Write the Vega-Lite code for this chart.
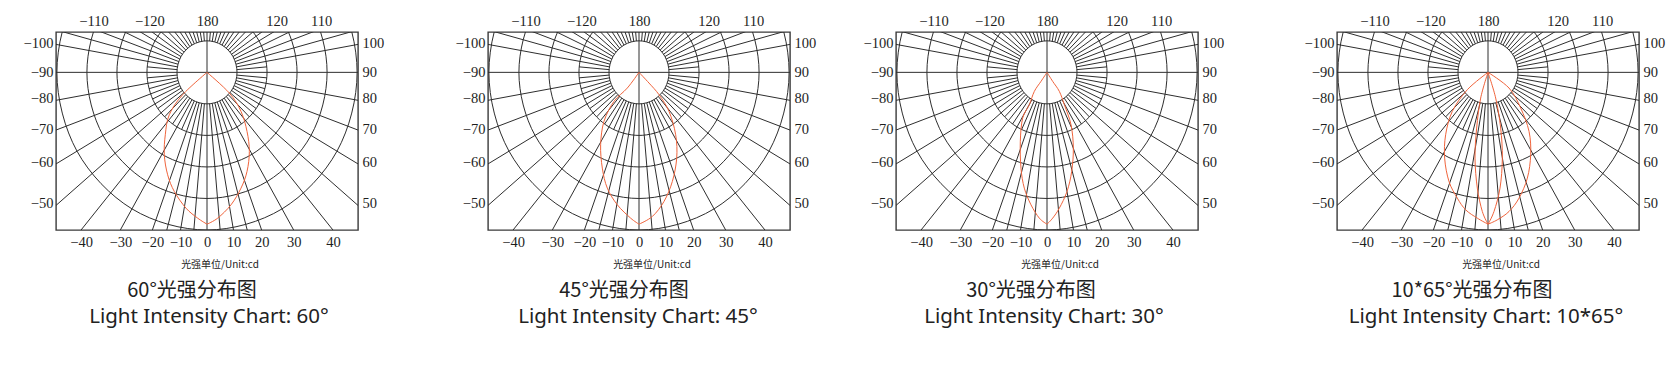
{
"$schema":"https://vega.github.io/schema/vega-lite/v6.json",
"background":"white",
"padding":{"left":22,"top":12,"right":0,"bottom":0},
"config":{"view":{"stroke":"#3a3a3a","strokeWidth":1.4},"axis":{"domain":false,"ticks":false,"tickSize":0,"grid":false,"labelFont":"Liberation Serif","labelFontSize":14.5,"labelColor":"#1e1e1e","labelOverlap":false,"labelFlush":false},"concat":{"spacing":0}},
"datasets":{
"rings":[
{"ring":1,"i":0,"x":1,"y":0},{"ring":1,"i":1,"x":0.866,"y":0.5},{"ring":1,"i":2,"x":0.5,"y":0.866},{"ring":1,"i":3,"x":0,"y":1},{"ring":1,"i":4,"x":-0.5,"y":0.866},{"ring":1,"i":5,"x":-0.866,"y":0.5},{"ring":1,"i":6,"x":-1,"y":0},{"ring":1,"i":7,"x":-0.866,"y":-0.5},{"ring":1,"i":8,"x":-0.5,"y":-0.866},{"ring":1,"i":9,"x":0,"y":-1},{"ring":1,"i":10,"x":0.5,"y":-0.866},{"ring":1,"i":11,"x":0.866,"y":-0.5},
{"ring":2,"i":0,"x":2,"y":0},{"ring":2,"i":1,"x":1.732,"y":1},{"ring":2,"i":2,"x":1,"y":1.732},{"ring":2,"i":3,"x":0,"y":2},{"ring":2,"i":4,"x":-1,"y":1.732},{"ring":2,"i":5,"x":-1.732,"y":1},{"ring":2,"i":6,"x":-2,"y":0},{"ring":2,"i":7,"x":-1.732,"y":-1},{"ring":2,"i":8,"x":-1,"y":-1.732},{"ring":2,"i":9,"x":0,"y":-2},{"ring":2,"i":10,"x":1,"y":-1.732},{"ring":2,"i":11,"x":1.732,"y":-1},
{"ring":3,"i":0,"x":3,"y":0},{"ring":3,"i":1,"x":2.598,"y":1.5},{"ring":3,"i":2,"x":1.5,"y":2.598},{"ring":3,"i":3,"x":0,"y":3},{"ring":3,"i":4,"x":-1.5,"y":2.598},{"ring":3,"i":5,"x":-2.598,"y":1.5},{"ring":3,"i":6,"x":-3,"y":0},{"ring":3,"i":7,"x":-2.598,"y":-1.5},{"ring":3,"i":8,"x":-1.5,"y":-2.598},{"ring":3,"i":9,"x":0,"y":-3},{"ring":3,"i":10,"x":1.5,"y":-2.598},{"ring":3,"i":11,"x":2.598,"y":-1.5},
{"ring":4,"i":0,"x":4,"y":0},{"ring":4,"i":1,"x":3.464,"y":2},{"ring":4,"i":2,"x":2,"y":3.464},{"ring":4,"i":3,"x":0,"y":4},{"ring":4,"i":4,"x":-2,"y":3.464},{"ring":4,"i":5,"x":-3.464,"y":2},{"ring":4,"i":6,"x":-4,"y":0},{"ring":4,"i":7,"x":-3.464,"y":-2},{"ring":4,"i":8,"x":-2,"y":-3.464},{"ring":4,"i":9,"x":0,"y":-4},{"ring":4,"i":10,"x":2,"y":-3.464},{"ring":4,"i":11,"x":3.464,"y":-2},
{"ring":5,"i":0,"x":5,"y":0},{"ring":5,"i":1,"x":4.33,"y":2.5},{"ring":5,"i":2,"x":2.5,"y":4.33},{"ring":5,"i":3,"x":0,"y":5},{"ring":5,"i":4,"x":-2.5,"y":4.33},{"ring":5,"i":5,"x":-4.33,"y":2.5},{"ring":5,"i":6,"x":-5,"y":0},{"ring":5,"i":7,"x":-4.33,"y":-2.5},{"ring":5,"i":8,"x":-2.5,"y":-4.33},{"ring":5,"i":9,"x":0,"y":-5},{"ring":5,"i":10,"x":2.5,"y":-4.33},{"ring":5,"i":11,"x":4.33,"y":-2.5}
],
"spokes":[
{"x":-6,"y":0,"x2":6,"y2":0},{"x":0,"y":-6,"x2":0,"y2":2},
{"x":0.087,"y":-0.996,"x2":0.698,"y2":-7.97},{"x":-0.087,"y":-0.996,"x2":-0.698,"y2":-7.97},
{"x":0.174,"y":-0.985,"x2":1.389,"y2":-7.878},{"x":-0.174,"y":-0.985,"x2":-1.389,"y2":-7.878},
{"x":0.259,"y":-0.966,"x2":2.07,"y2":-7.727},{"x":-0.259,"y":-0.966,"x2":-2.07,"y2":-7.727},
{"x":0.342,"y":-0.94,"x2":2.736,"y2":-7.518},{"x":-0.342,"y":-0.94,"x2":-2.736,"y2":-7.518},
{"x":0.5,"y":-0.866,"x2":4,"y2":-6.928},{"x":-0.5,"y":-0.866,"x2":-4,"y2":-6.928},
{"x":0.643,"y":-0.766,"x2":5.142,"y2":-6.128},{"x":-0.643,"y":-0.766,"x2":-5.142,"y2":-6.128},
{"x":0.766,"y":-0.643,"x2":6.128,"y2":-5.142},{"x":-0.766,"y":-0.643,"x2":-6.128,"y2":-5.142},
{"x":0.866,"y":-0.5,"x2":6.928,"y2":-4},{"x":-0.866,"y":-0.5,"x2":-6.928,"y2":-4},
{"x":0.94,"y":-0.342,"x2":7.518,"y2":-2.736},{"x":-0.94,"y":-0.342,"x2":-7.518,"y2":-2.736},
{"x":0.985,"y":-0.174,"x2":7.878,"y2":-1.389},{"x":-0.985,"y":-0.174,"x2":-7.878,"y2":-1.389},
{"x":0.423,"y":-0.906,"x2":0.845,"y2":-1.813},{"x":-0.423,"y":-0.906,"x2":-0.845,"y2":-1.813},
{"x":0.574,"y":-0.819,"x2":1.147,"y2":-1.638},{"x":-0.574,"y":-0.819,"x2":-1.147,"y2":-1.638},
{"x":0.707,"y":-0.707,"x2":1.414,"y2":-1.414},{"x":-0.707,"y":-0.707,"x2":-1.414,"y2":-1.414},
{"x":0.819,"y":-0.574,"x2":1.638,"y2":-1.147},{"x":-0.819,"y":-0.574,"x2":-1.638,"y2":-1.147},
{"x":0.906,"y":-0.423,"x2":1.813,"y2":-0.845},{"x":-0.906,"y":-0.423,"x2":-1.813,"y2":-0.845},
{"x":0.966,"y":-0.259,"x2":1.932,"y2":-0.518},{"x":-0.966,"y":-0.259,"x2":-1.932,"y2":-0.518},
{"x":0.996,"y":-0.087,"x2":1.992,"y2":-0.174},{"x":-0.996,"y":-0.087,"x2":-1.992,"y2":-0.174},
{"x":0.087,"y":0.996,"x2":0.698,"y2":7.97},{"x":-0.087,"y":0.996,"x2":-0.698,"y2":7.97},
{"x":0.174,"y":0.985,"x2":1.389,"y2":7.878},{"x":-0.174,"y":0.985,"x2":-1.389,"y2":7.878},
{"x":0.259,"y":0.966,"x2":2.07,"y2":7.727},{"x":-0.259,"y":0.966,"x2":-2.07,"y2":7.727},
{"x":0.342,"y":0.94,"x2":2.736,"y2":7.518},{"x":-0.342,"y":0.94,"x2":-2.736,"y2":7.518},
{"x":0.423,"y":0.906,"x2":3.381,"y2":7.25},{"x":-0.423,"y":0.906,"x2":-3.381,"y2":7.25},
{"x":0.5,"y":0.866,"x2":4,"y2":6.928},{"x":-0.5,"y":0.866,"x2":-4,"y2":6.928},
{"x":0.574,"y":0.819,"x2":4.589,"y2":6.554},{"x":-0.574,"y":0.819,"x2":-4.589,"y2":6.554},
{"x":0.643,"y":0.766,"x2":5.142,"y2":6.128},{"x":-0.643,"y":0.766,"x2":-5.142,"y2":6.128},
{"x":0.707,"y":0.707,"x2":5.657,"y2":5.657},{"x":-0.707,"y":0.707,"x2":-5.657,"y2":5.657},
{"x":0.766,"y":0.643,"x2":6.128,"y2":5.142},{"x":-0.766,"y":0.643,"x2":-6.128,"y2":5.142},
{"x":0.819,"y":0.574,"x2":6.554,"y2":4.589},{"x":-0.819,"y":0.574,"x2":-6.554,"y2":4.589},
{"x":0.866,"y":0.5,"x2":6.928,"y2":4},{"x":-0.866,"y":0.5,"x2":-6.928,"y2":4},
{"x":0.906,"y":0.423,"x2":7.25,"y2":3.381},{"x":-0.906,"y":0.423,"x2":-7.25,"y2":3.381},
{"x":0.94,"y":0.342,"x2":7.518,"y2":2.736},{"x":-0.94,"y":0.342,"x2":-7.518,"y2":2.736},
{"x":0.966,"y":0.259,"x2":7.727,"y2":2.07},{"x":-0.966,"y":0.259,"x2":-7.727,"y2":2.07},
{"x":0.985,"y":0.174,"x2":7.878,"y2":1.389},{"x":-0.985,"y":0.174,"x2":-7.878,"y2":1.389},
{"x":0.996,"y":0.087,"x2":1.992,"y2":0.174},{"x":-0.996,"y":0.087,"x2":-1.992,"y2":0.174}
],
"curves":[
{"c":"60","s":"L","i":0,"x":0,"y":0},{"c":"60","s":"L","i":1,"x":-0.811,"y":-0.709},{"c":"60","s":"L","i":2,"x":-1.256,"y":-1.344},{"c":"60","s":"L","i":3,"x":-1.389,"y":-1.979},{"c":"60","s":"L","i":4,"x":-1.422,"y":-2.614},{"c":"60","s":"L","i":5,"x":-1.311,"y":-3.249},{"c":"60","s":"L","i":6,"x":-1.089,"y":-3.778},{"c":"60","s":"L","i":7,"x":-0.7,"y":-4.307},{"c":"60","s":"L","i":8,"x":-0.311,"y":-4.624},{"c":"60","s":"L","i":9,"x":0,"y":-4.815},
{"c":"60","s":"R","i":0,"x":0,"y":0},{"c":"60","s":"R","i":1,"x":0.744,"y":-0.656},{"c":"60","s":"R","i":2,"x":1.133,"y":-1.238},{"c":"60","s":"R","i":3,"x":1.333,"y":-1.873},{"c":"60","s":"R","i":4,"x":1.411,"y":-2.508},{"c":"60","s":"R","i":5,"x":1.333,"y":-3.143},{"c":"60","s":"R","i":6,"x":1.133,"y":-3.672},{"c":"60","s":"R","i":7,"x":0.8,"y":-4.201},{"c":"60","s":"R","i":8,"x":0.356,"y":-4.624},{"c":"60","s":"R","i":9,"x":0,"y":-4.815},
{"c":"45","s":"L","i":0,"x":0,"y":0},{"c":"45","s":"L","i":1,"x":-0.389,"y":-0.497},{"c":"45","s":"L","i":2,"x":-0.833,"y":-0.921},{"c":"45","s":"L","i":3,"x":-1.167,"y":-1.556},{"c":"45","s":"L","i":4,"x":-1.278,"y":-2.296},{"c":"45","s":"L","i":5,"x":-1.222,"y":-3.037},{"c":"45","s":"L","i":6,"x":-1.056,"y":-3.672},{"c":"45","s":"L","i":7,"x":-0.722,"y":-4.201},{"c":"45","s":"L","i":8,"x":-0.278,"y":-4.624},{"c":"45","s":"L","i":9,"x":0,"y":-4.815},
{"c":"45","s":"R","i":0,"x":0,"y":0},{"c":"45","s":"R","i":1,"x":0.333,"y":-0.339},{"c":"45","s":"R","i":2,"x":0.667,"y":-0.709},{"c":"45","s":"R","i":3,"x":1.0,"y":-1.238},{"c":"45","s":"R","i":4,"x":1.222,"y":-1.979},{"c":"45","s":"R","i":5,"x":1.256,"y":-2.72},{"c":"45","s":"R","i":6,"x":1.111,"y":-3.46},{"c":"45","s":"R","i":7,"x":0.833,"y":-4.095},{"c":"45","s":"R","i":8,"x":0.444,"y":-4.571},{"c":"45","s":"R","i":9,"x":0,"y":-4.815},
{"c":"30","s":"L","i":0,"x":0,"y":0},{"c":"30","s":"L","i":1,"x":-0.2,"y":-0.286},{"c":"30","s":"L","i":2,"x":-0.422,"y":-0.603},{"c":"30","s":"L","i":3,"x":-0.589,"y":-1.026},{"c":"30","s":"L","i":4,"x":-0.811,"y":-1.45},{"c":"30","s":"L","i":5,"x":-0.889,"y":-2.19},{"c":"30","s":"L","i":6,"x":-0.867,"y":-3.037},{"c":"30","s":"L","i":7,"x":-0.756,"y":-3.672},{"c":"30","s":"L","i":8,"x":-0.533,"y":-4.201},{"c":"30","s":"L","i":9,"x":-0.256,"y":-4.624},{"c":"30","s":"L","i":10,"x":0,"y":-4.815},
{"c":"30","s":"R","i":0,"x":0,"y":0},{"c":"30","s":"R","i":1,"x":0.189,"y":-0.286},{"c":"30","s":"R","i":2,"x":0.411,"y":-0.603},{"c":"30","s":"R","i":3,"x":0.578,"y":-1.026},{"c":"30","s":"R","i":4,"x":0.8,"y":-1.661},{"c":"30","s":"R","i":5,"x":0.878,"y":-2.402},{"c":"30","s":"R","i":6,"x":0.822,"y":-3.143},{"c":"30","s":"R","i":7,"x":0.667,"y":-3.778},{"c":"30","s":"R","i":8,"x":0.411,"y":-4.307},{"c":"30","s":"R","i":9,"x":0.189,"y":-4.624},{"c":"30","s":"R","i":10,"x":0,"y":-4.815},
{"c":"1065","s":"WL","i":0,"x":0,"y":0},{"c":"1065","s":"WL","i":1,"x":-0.689,"y":-0.55},{"c":"1065","s":"WL","i":2,"x":-1.189,"y":-1.238},{"c":"1065","s":"WL","i":3,"x":-1.411,"y":-1.979},{"c":"1065","s":"WL","i":4,"x":-1.444,"y":-2.72},{"c":"1065","s":"WL","i":5,"x":-1.3,"y":-3.46},{"c":"1065","s":"WL","i":6,"x":-1.022,"y":-3.989},{"c":"1065","s":"WL","i":7,"x":-0.744,"y":-4.36},{"c":"1065","s":"WL","i":8,"x":-0.356,"y":-4.624},{"c":"1065","s":"WL","i":9,"x":0,"y":-4.815},
{"c":"1065","s":"WR","i":0,"x":0,"y":0},{"c":"1065","s":"WR","i":1,"x":0.7,"y":-0.497},{"c":"1065","s":"WR","i":2,"x":1.089,"y":-1.132},{"c":"1065","s":"WR","i":3,"x":1.367,"y":-1.873},{"c":"1065","s":"WR","i":4,"x":1.422,"y":-2.614},{"c":"1065","s":"WR","i":5,"x":1.311,"y":-3.354},{"c":"1065","s":"WR","i":6,"x":1.033,"y":-3.989},{"c":"1065","s":"WR","i":7,"x":0.7,"y":-4.413},{"c":"1065","s":"WR","i":8,"x":0.311,"y":-4.677},{"c":"1065","s":"WR","i":9,"x":0,"y":-4.815},
{"c":"1065","s":"NL","i":0,"x":0,"y":0},{"c":"1065","s":"NL","i":1,"x":-0.244,"y":-0.815},{"c":"1065","s":"NL","i":2,"x":-0.378,"y":-1.767},{"c":"1065","s":"NL","i":3,"x":-0.433,"y":-2.72},{"c":"1065","s":"NL","i":4,"x":-0.356,"y":-3.672},{"c":"1065","s":"NL","i":5,"x":-0.189,"y":-4.413},{"c":"1065","s":"NL","i":6,"x":0,"y":-4.815},
{"c":"1065","s":"NR","i":0,"x":0,"y":0},{"c":"1065","s":"NR","i":1,"x":0.256,"y":-0.815},{"c":"1065","s":"NR","i":2,"x":0.422,"y":-1.767},{"c":"1065","s":"NR","i":3,"x":0.478,"y":-2.72},{"c":"1065","s":"NR","i":4,"x":0.4,"y":-3.672},{"c":"1065","s":"NR","i":5,"x":0.2,"y":-4.413},{"c":"1065","s":"NR","i":6,"x":0,"y":-4.815}
]
},
"bounds":"flush",
"spacing":0,
"hconcat":[
{"width":302,"height":198,"resolve":{"axis":{"x":"independent","y":"independent"}},"layer":[
 {"data":{"name":"rings"},"mark":{"type":"line","interpolate":"cardinal-closed","clip":true,"stroke":"#2e2e2e","strokeWidth":1},"encoding":{"x":{"field":"x","type":"quantitative","scale":{"domain":[-5.03,5.03],"nice":false,"zero":false},"axis":{"orient":"bottom","title":null,"values":[-4.195,-2.887,-1.82,-0.882,0,0.882,1.82,2.887,4.195],"labelPadding":5,"labelExpr":"datum.value < -3.5 ? '−40' : datum.value < -2.3 ? '−30' : datum.value < -1.3 ? '−20' : datum.value < -0.4 ? '−10' : datum.value < 0.4 ? '0' : datum.value < 1.3 ? '10' : datum.value < 2.3 ? '20' : datum.value < 3.5 ? '30' : '40'"}},"y":{"field":"y","type":"quantitative","scale":{"domain":[-5,1.28],"nice":false,"zero":false},"axis":{"orient":"left","title":null,"values":[0.9,0,-0.83,-1.82,-2.85,-4.17],"labelPadding":3,"labelExpr":"datum.value > 0.5 ? '−100' : datum.value > -0.4 ? '−90' : datum.value > -1.3 ? '−80' : datum.value > -2.3 ? '−70' : datum.value > -3.5 ? '−60' : '−50'"}},"detail":{"field":"ring","type":"nominal"},"order":{"field":"i","type":"quantitative"}}},
 {"data":{"name":"spokes"},"mark":{"type":"rule","clip":true,"stroke":"#2e2e2e","strokeWidth":1},"encoding":{"x":{"field":"x","type":"quantitative","scale":{"domain":[-5.03,5.03],"nice":false,"zero":false},"axis":{"orient":"top","title":null,"values":[-3.78,-1.92,0,2.32,3.8],"labelPadding":4,"labelExpr":"datum.value < -3 ? '−110' : datum.value < -1 ? '−120' : datum.value < 1 ? '180' : datum.value < 3 ? '120' : '110'"}},"y":{"field":"y","type":"quantitative","scale":{"domain":[-5,1.28],"nice":false,"zero":false},"axis":{"orient":"right","title":null,"values":[0.9,0,-0.83,-1.82,-2.85,-4.17],"labelPadding":4,"labelExpr":"datum.value > 0.5 ? '100' : datum.value > -0.4 ? '90' : datum.value > -1.3 ? '80' : datum.value > -2.3 ? '70' : datum.value > -3.5 ? '60' : '50'"}},"x2":{"field":"x2"},"y2":{"field":"y2"}}},
 {"data":{"name":"curves"},"transform":[{"filter":"datum.c == '60'"}],"mark":{"type":"line","interpolate":"cardinal","clip":true,"stroke":"#f0643c","strokeWidth":1},"encoding":{"x":{"field":"x","type":"quantitative","scale":{"domain":[-5.03,5.03],"nice":false,"zero":false},"axis":null},"y":{"field":"y","type":"quantitative","scale":{"domain":[-5,1.28],"nice":false,"zero":false},"axis":null},"detail":{"field":"s","type":"nominal"},"order":{"field":"i","type":"quantitative"}}},
 {"data":{"values":[{}]},"mark":{"type":"text","text":"光强单位/Unit:cd","font":"Noto Sans CJK SC","fontSize":10,"fill":"#222","dx":13,"baseline":"middle","align":"center"},"encoding":{"x":{"datum":0,"type":"quantitative","scale":{"domain":[-5.03,5.03],"nice":false,"zero":false},"axis":null},"y":{"datum":-6.12,"type":"quantitative","scale":{"domain":[-5,1.28],"nice":false,"zero":false},"axis":null}}},
 {"data":{"values":[{}]},"mark":{"type":"text","text":"60°光强分布图","font":"Noto Sans CJK SC","fontSize":20,"fill":"#222","dx":-15,"baseline":"middle","align":"center"},"encoding":{"x":{"datum":0,"type":"quantitative","scale":{"domain":[-5.03,5.03],"nice":false,"zero":false},"axis":null},"y":{"datum":-6.93,"type":"quantitative","scale":{"domain":[-5,1.28],"nice":false,"zero":false},"axis":null}}},
 {"data":{"values":[{}]},"mark":{"type":"text","text":"Light Intensity Chart: 60°","font":"Noto Sans","fontSize":20.5,"fill":"#222","dx":2,"baseline":"middle","align":"center"},"encoding":{"x":{"datum":0,"type":"quantitative","scale":{"domain":[-5.03,5.03],"nice":false,"zero":false},"axis":null},"y":{"datum":-7.76,"type":"quantitative","scale":{"domain":[-5,1.28],"nice":false,"zero":false},"axis":null}}}
]},
{"width":130,"height":198,"view":{"stroke":null},"data":{"values":[]},"mark":{"type":"point","opacity":0}},
{"width":302,"height":198,"resolve":{"axis":{"x":"independent","y":"independent"}},"layer":[
 {"data":{"name":"rings"},"mark":{"type":"line","interpolate":"cardinal-closed","clip":true,"stroke":"#2e2e2e","strokeWidth":1},"encoding":{"x":{"field":"x","type":"quantitative","scale":{"domain":[-5.03,5.03],"nice":false,"zero":false},"axis":{"orient":"bottom","title":null,"values":[-4.195,-2.887,-1.82,-0.882,0,0.882,1.82,2.887,4.195],"labelPadding":5,"labelExpr":"datum.value < -3.5 ? '−40' : datum.value < -2.3 ? '−30' : datum.value < -1.3 ? '−20' : datum.value < -0.4 ? '−10' : datum.value < 0.4 ? '0' : datum.value < 1.3 ? '10' : datum.value < 2.3 ? '20' : datum.value < 3.5 ? '30' : '40'"}},"y":{"field":"y","type":"quantitative","scale":{"domain":[-5,1.28],"nice":false,"zero":false},"axis":{"orient":"left","title":null,"values":[0.9,0,-0.83,-1.82,-2.85,-4.17],"labelPadding":3,"labelExpr":"datum.value > 0.5 ? '−100' : datum.value > -0.4 ? '−90' : datum.value > -1.3 ? '−80' : datum.value > -2.3 ? '−70' : datum.value > -3.5 ? '−60' : '−50'"}},"detail":{"field":"ring","type":"nominal"},"order":{"field":"i","type":"quantitative"}}},
 {"data":{"name":"spokes"},"mark":{"type":"rule","clip":true,"stroke":"#2e2e2e","strokeWidth":1},"encoding":{"x":{"field":"x","type":"quantitative","scale":{"domain":[-5.03,5.03],"nice":false,"zero":false},"axis":{"orient":"top","title":null,"values":[-3.78,-1.92,0,2.32,3.8],"labelPadding":4,"labelExpr":"datum.value < -3 ? '−110' : datum.value < -1 ? '−120' : datum.value < 1 ? '180' : datum.value < 3 ? '120' : '110'"}},"y":{"field":"y","type":"quantitative","scale":{"domain":[-5,1.28],"nice":false,"zero":false},"axis":{"orient":"right","title":null,"values":[0.9,0,-0.83,-1.82,-2.85,-4.17],"labelPadding":4,"labelExpr":"datum.value > 0.5 ? '100' : datum.value > -0.4 ? '90' : datum.value > -1.3 ? '80' : datum.value > -2.3 ? '70' : datum.value > -3.5 ? '60' : '50'"}},"x2":{"field":"x2"},"y2":{"field":"y2"}}},
 {"data":{"name":"curves"},"transform":[{"filter":"datum.c == '45'"}],"mark":{"type":"line","interpolate":"cardinal","clip":true,"stroke":"#f0643c","strokeWidth":1},"encoding":{"x":{"field":"x","type":"quantitative","scale":{"domain":[-5.03,5.03],"nice":false,"zero":false},"axis":null},"y":{"field":"y","type":"quantitative","scale":{"domain":[-5,1.28],"nice":false,"zero":false},"axis":null},"detail":{"field":"s","type":"nominal"},"order":{"field":"i","type":"quantitative"}}},
 {"data":{"values":[{}]},"mark":{"type":"text","text":"光强单位/Unit:cd","font":"Noto Sans CJK SC","fontSize":10,"fill":"#222","dx":13,"baseline":"middle","align":"center"},"encoding":{"x":{"datum":0,"type":"quantitative","scale":{"domain":[-5.03,5.03],"nice":false,"zero":false},"axis":null},"y":{"datum":-6.12,"type":"quantitative","scale":{"domain":[-5,1.28],"nice":false,"zero":false},"axis":null}}},
 {"data":{"values":[{}]},"mark":{"type":"text","text":"45°光强分布图","font":"Noto Sans CJK SC","fontSize":20,"fill":"#222","dx":-15,"baseline":"middle","align":"center"},"encoding":{"x":{"datum":0,"type":"quantitative","scale":{"domain":[-5.03,5.03],"nice":false,"zero":false},"axis":null},"y":{"datum":-6.93,"type":"quantitative","scale":{"domain":[-5,1.28],"nice":false,"zero":false},"axis":null}}},
 {"data":{"values":[{}]},"mark":{"type":"text","text":"Light Intensity Chart: 45°","font":"Noto Sans","fontSize":20.5,"fill":"#222","dx":-1,"baseline":"middle","align":"center"},"encoding":{"x":{"datum":0,"type":"quantitative","scale":{"domain":[-5.03,5.03],"nice":false,"zero":false},"axis":null},"y":{"datum":-7.76,"type":"quantitative","scale":{"domain":[-5,1.28],"nice":false,"zero":false},"axis":null}}}
]},
{"width":106,"height":198,"view":{"stroke":null},"data":{"values":[]},"mark":{"type":"point","opacity":0}},
{"width":302,"height":198,"resolve":{"axis":{"x":"independent","y":"independent"}},"layer":[
 {"data":{"name":"rings"},"mark":{"type":"line","interpolate":"cardinal-closed","clip":true,"stroke":"#2e2e2e","strokeWidth":1},"encoding":{"x":{"field":"x","type":"quantitative","scale":{"domain":[-5.03,5.03],"nice":false,"zero":false},"axis":{"orient":"bottom","title":null,"values":[-4.195,-2.887,-1.82,-0.882,0,0.882,1.82,2.887,4.195],"labelPadding":5,"labelExpr":"datum.value < -3.5 ? '−40' : datum.value < -2.3 ? '−30' : datum.value < -1.3 ? '−20' : datum.value < -0.4 ? '−10' : datum.value < 0.4 ? '0' : datum.value < 1.3 ? '10' : datum.value < 2.3 ? '20' : datum.value < 3.5 ? '30' : '40'"}},"y":{"field":"y","type":"quantitative","scale":{"domain":[-5,1.28],"nice":false,"zero":false},"axis":{"orient":"left","title":null,"values":[0.9,0,-0.83,-1.82,-2.85,-4.17],"labelPadding":3,"labelExpr":"datum.value > 0.5 ? '−100' : datum.value > -0.4 ? '−90' : datum.value > -1.3 ? '−80' : datum.value > -2.3 ? '−70' : datum.value > -3.5 ? '−60' : '−50'"}},"detail":{"field":"ring","type":"nominal"},"order":{"field":"i","type":"quantitative"}}},
 {"data":{"name":"spokes"},"mark":{"type":"rule","clip":true,"stroke":"#2e2e2e","strokeWidth":1},"encoding":{"x":{"field":"x","type":"quantitative","scale":{"domain":[-5.03,5.03],"nice":false,"zero":false},"axis":{"orient":"top","title":null,"values":[-3.78,-1.92,0,2.32,3.8],"labelPadding":4,"labelExpr":"datum.value < -3 ? '−110' : datum.value < -1 ? '−120' : datum.value < 1 ? '180' : datum.value < 3 ? '120' : '110'"}},"y":{"field":"y","type":"quantitative","scale":{"domain":[-5,1.28],"nice":false,"zero":false},"axis":{"orient":"right","title":null,"values":[0.9,0,-0.83,-1.82,-2.85,-4.17],"labelPadding":4,"labelExpr":"datum.value > 0.5 ? '100' : datum.value > -0.4 ? '90' : datum.value > -1.3 ? '80' : datum.value > -2.3 ? '70' : datum.value > -3.5 ? '60' : '50'"}},"x2":{"field":"x2"},"y2":{"field":"y2"}}},
 {"data":{"name":"curves"},"transform":[{"filter":"datum.c == '30'"}],"mark":{"type":"line","interpolate":"cardinal","clip":true,"stroke":"#f0643c","strokeWidth":1},"encoding":{"x":{"field":"x","type":"quantitative","scale":{"domain":[-5.03,5.03],"nice":false,"zero":false},"axis":null},"y":{"field":"y","type":"quantitative","scale":{"domain":[-5,1.28],"nice":false,"zero":false},"axis":null},"detail":{"field":"s","type":"nominal"},"order":{"field":"i","type":"quantitative"}}},
 {"data":{"values":[{}]},"mark":{"type":"text","text":"光强单位/Unit:cd","font":"Noto Sans CJK SC","fontSize":10,"fill":"#222","dx":13,"baseline":"middle","align":"center"},"encoding":{"x":{"datum":0,"type":"quantitative","scale":{"domain":[-5.03,5.03],"nice":false,"zero":false},"axis":null},"y":{"datum":-6.12,"type":"quantitative","scale":{"domain":[-5,1.28],"nice":false,"zero":false},"axis":null}}},
 {"data":{"values":[{}]},"mark":{"type":"text","text":"30°光强分布图","font":"Noto Sans CJK SC","fontSize":20,"fill":"#222","dx":-16,"baseline":"middle","align":"center"},"encoding":{"x":{"datum":0,"type":"quantitative","scale":{"domain":[-5.03,5.03],"nice":false,"zero":false},"axis":null},"y":{"datum":-6.93,"type":"quantitative","scale":{"domain":[-5,1.28],"nice":false,"zero":false},"axis":null}}},
 {"data":{"values":[{}]},"mark":{"type":"text","text":"Light Intensity Chart: 30°","font":"Noto Sans","fontSize":20.5,"fill":"#222","dx":-3,"baseline":"middle","align":"center"},"encoding":{"x":{"datum":0,"type":"quantitative","scale":{"domain":[-5.03,5.03],"nice":false,"zero":false},"axis":null},"y":{"datum":-7.76,"type":"quantitative","scale":{"domain":[-5,1.28],"nice":false,"zero":false},"axis":null}}}
]},
{"width":139,"height":198,"view":{"stroke":null},"data":{"values":[]},"mark":{"type":"point","opacity":0}},
{"width":302,"height":198,"resolve":{"axis":{"x":"independent","y":"independent"}},"layer":[
 {"data":{"name":"rings"},"mark":{"type":"line","interpolate":"cardinal-closed","clip":true,"stroke":"#2e2e2e","strokeWidth":1},"encoding":{"x":{"field":"x","type":"quantitative","scale":{"domain":[-5.03,5.03],"nice":false,"zero":false},"axis":{"orient":"bottom","title":null,"values":[-4.195,-2.887,-1.82,-0.882,0,0.882,1.82,2.887,4.195],"labelPadding":5,"labelExpr":"datum.value < -3.5 ? '−40' : datum.value < -2.3 ? '−30' : datum.value < -1.3 ? '−20' : datum.value < -0.4 ? '−10' : datum.value < 0.4 ? '0' : datum.value < 1.3 ? '10' : datum.value < 2.3 ? '20' : datum.value < 3.5 ? '30' : '40'"}},"y":{"field":"y","type":"quantitative","scale":{"domain":[-5,1.28],"nice":false,"zero":false},"axis":{"orient":"left","title":null,"values":[0.9,0,-0.83,-1.82,-2.85,-4.17],"labelPadding":3,"labelExpr":"datum.value > 0.5 ? '−100' : datum.value > -0.4 ? '−90' : datum.value > -1.3 ? '−80' : datum.value > -2.3 ? '−70' : datum.value > -3.5 ? '−60' : '−50'"}},"detail":{"field":"ring","type":"nominal"},"order":{"field":"i","type":"quantitative"}}},
 {"data":{"name":"spokes"},"mark":{"type":"rule","clip":true,"stroke":"#2e2e2e","strokeWidth":1},"encoding":{"x":{"field":"x","type":"quantitative","scale":{"domain":[-5.03,5.03],"nice":false,"zero":false},"axis":{"orient":"top","title":null,"values":[-3.78,-1.92,0,2.32,3.8],"labelPadding":4,"labelExpr":"datum.value < -3 ? '−110' : datum.value < -1 ? '−120' : datum.value < 1 ? '180' : datum.value < 3 ? '120' : '110'"}},"y":{"field":"y","type":"quantitative","scale":{"domain":[-5,1.28],"nice":false,"zero":false},"axis":{"orient":"right","title":null,"values":[0.9,0,-0.83,-1.82,-2.85,-4.17],"labelPadding":4,"labelExpr":"datum.value > 0.5 ? '100' : datum.value > -0.4 ? '90' : datum.value > -1.3 ? '80' : datum.value > -2.3 ? '70' : datum.value > -3.5 ? '60' : '50'"}},"x2":{"field":"x2"},"y2":{"field":"y2"}}},
 {"data":{"name":"curves"},"transform":[{"filter":"datum.c == '1065'"}],"mark":{"type":"line","interpolate":"cardinal","clip":true,"stroke":"#f0643c","strokeWidth":1},"encoding":{"x":{"field":"x","type":"quantitative","scale":{"domain":[-5.03,5.03],"nice":false,"zero":false},"axis":null},"y":{"field":"y","type":"quantitative","scale":{"domain":[-5,1.28],"nice":false,"zero":false},"axis":null},"detail":{"field":"s","type":"nominal"},"order":{"field":"i","type":"quantitative"}}},
 {"data":{"values":[{}]},"mark":{"type":"text","text":"光强单位/Unit:cd","font":"Noto Sans CJK SC","fontSize":10,"fill":"#222","dx":13,"baseline":"middle","align":"center"},"encoding":{"x":{"datum":0,"type":"quantitative","scale":{"domain":[-5.03,5.03],"nice":false,"zero":false},"axis":null},"y":{"datum":-6.12,"type":"quantitative","scale":{"domain":[-5,1.28],"nice":false,"zero":false},"axis":null}}},
 {"data":{"values":[{}]},"mark":{"type":"text","text":"10*65°光强分布图","font":"Noto Sans CJK SC","fontSize":20,"fill":"#222","dx":-16,"baseline":"middle","align":"center"},"encoding":{"x":{"datum":0,"type":"quantitative","scale":{"domain":[-5.03,5.03],"nice":false,"zero":false},"axis":null},"y":{"datum":-6.93,"type":"quantitative","scale":{"domain":[-5,1.28],"nice":false,"zero":false},"axis":null}}},
 {"data":{"values":[{}]},"mark":{"type":"text","text":"Light Intensity Chart: 10*65°","font":"Noto Sans","fontSize":20.5,"fill":"#222","dx":-2,"baseline":"middle","align":"center"},"encoding":{"x":{"datum":0,"type":"quantitative","scale":{"domain":[-5.03,5.03],"nice":false,"zero":false},"axis":null},"y":{"datum":-7.76,"type":"quantitative","scale":{"domain":[-5,1.28],"nice":false,"zero":false},"axis":null}}}
]}
]
}
